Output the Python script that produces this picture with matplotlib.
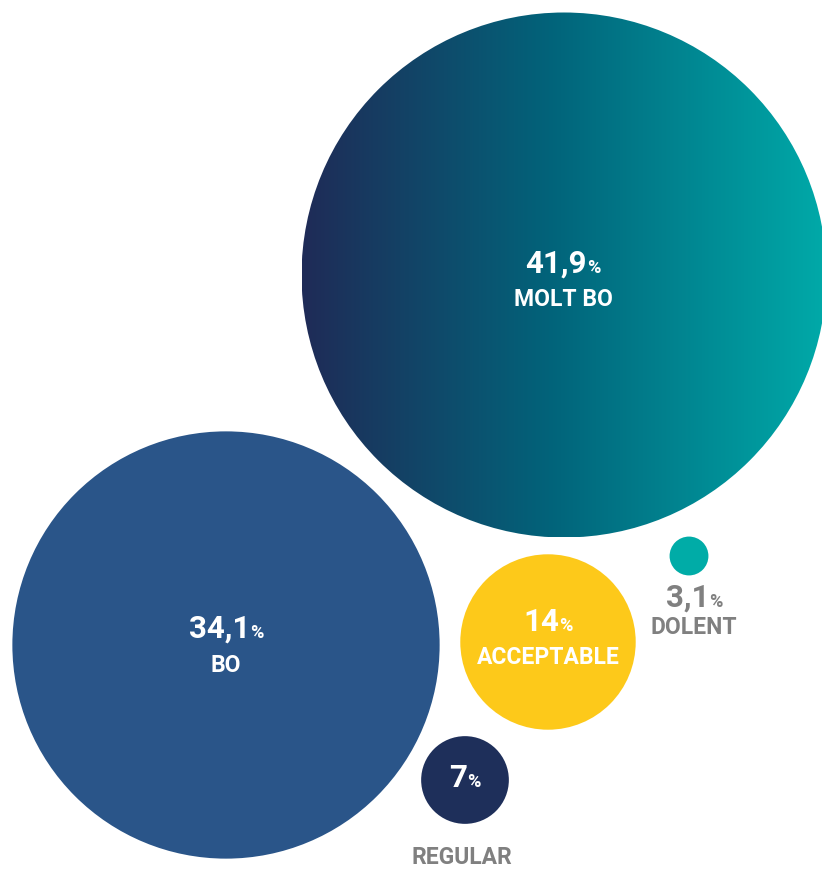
import numpy as np
import matplotlib
matplotlib.use("Agg")
import matplotlib.pyplot as plt
from matplotlib.patches import Circle
from matplotlib.colors import LinearSegmentedColormap
from matplotlib.offsetbox import TextArea, HPacker, AnnotationBbox

plt.rcParams['font.family'] = ['Roboto', 'DejaVu Sans']

# Survey answers (share of respondents, %)
categories = ["MOLT BO", "BO", "ACCEPTABLE", "REGULAR", "DOLENT"]
values = [41.9, 34.1, 14, 7, 3.1]
value_labels = ["41,9", "34,1", "14", "7", "3,1"]

# Bubble layout (pixel space) and styling
centers = [(564, 275), (226, 645), (548, 642), (465, 780), (689, 556)]
fills = [None, "#2a5589", "#fdc91a", "#1e2f5a", "#00aca7"]

W, H = 822, 869
px_per_unit = 262.5 / 41.9  # radius grows linearly with the share

fig = plt.figure(figsize=(W / 100, H / 100), dpi=100)
ax = fig.add_axes([0, 0, 1, 1])
ax.set_xlim(0, W)
ax.set_ylim(H, 0)
ax.set_aspect("equal")
ax.axis("off")

grad = LinearSegmentedColormap.from_list(
    "teal", [(0.0, "#1f2b57"), (0.47, "#02637a"), (1.0, "#00aaa9")])

GRAY = "#808080"
NUM_SIZE, PCT_SIZE, LABEL_SIZE = 22.5, 13, 16.5


def value_box(num, color):
    num_t = TextArea(num, textprops=dict(color=color, fontsize=NUM_SIZE,
                                         fontweight="bold"))
    pct_t = TextArea("%", textprops=dict(color=color, fontsize=PCT_SIZE,
                                         fontweight="semibold"))
    return HPacker(children=[num_t, pct_t], align="baseline", pad=0, sep=0)


# label positions: (value x, value y, name x, name y, colours)
label_pos = {
    "MOLT BO": (563, 264, 563, 300, "white", "white"),
    "BO": (226, 629, 226, 665, "white", "white"),
    "ACCEPTABLE": (548, 622, 548, 657, "white", "white"),
    "REGULAR": (465, 778, 462, 858, "white", GRAY),
    "DOLENT": (694, 598, 694, 627, GRAY, GRAY),
}

for cat, val, lab, (cx, cy), fc in zip(categories, values, value_labels,
                                       centers, fills):
    r = val * px_per_unit
    if fc is None:
        circ = Circle((cx, cy), r, facecolor="none", edgecolor="none")
        ax.add_patch(circ)
        g = np.linspace(0, 1, 512).reshape(1, -1)
        im = ax.imshow(g, cmap=grad, extent=(cx - r, cx + r, cy + r, cy - r),
                       aspect="auto", interpolation="bicubic", zorder=1)
        im.set_clip_path(circ)
    else:
        ax.add_patch(Circle((cx, cy), r, facecolor=fc, edgecolor="none",
                            zorder=1))

    vx, vy, nx, ny, vcol, ncol = label_pos[cat]
    ab = AnnotationBbox(value_box(lab, vcol), (vx, vy), frameon=False,
                        box_alignment=(0.5, 0.5), zorder=3)
    ax.add_artist(ab)
    ax.text(nx, ny, cat, color=ncol, fontsize=LABEL_SIZE, fontweight="bold",
            ha="center", va="center", zorder=3)

fig.savefig("out.png", dpi=100, facecolor="white")
